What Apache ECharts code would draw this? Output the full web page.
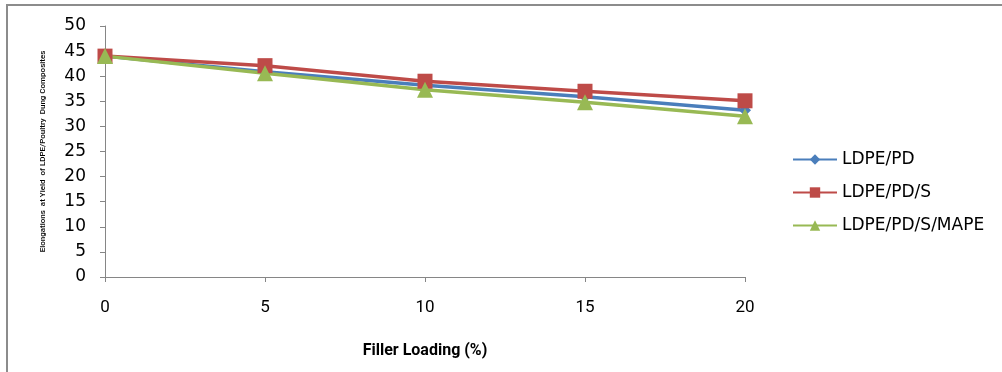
<!DOCTYPE html>
<html>
<head>
<meta charset="utf-8">
<script src="https://cdn.jsdelivr.net/npm/echarts@6/dist/echarts.min.js"></script>
<style>
  html, body { margin: 0; padding: 0; background: #fff; }
  #chart { width: 1002px; height: 372px; }
</style>
</head>
<body>
<div id="chart"></div>
<script>
// filler loading (%)
const loading = [0, 5, 10, 15, 20]
const ldpePd = [44, 40.9, 38.2, 35.9, 33.2]
const ldpePdS = [44, 42.1, 39.0, 37.0, 35.1]
const ldpePdSMape = [44, 40.6, 37.3, 34.8, 32.0]
const seriesNames = ['LDPE/PD', 'LDPE/PD/S', 'LDPE/PD/S/MAPE']

const pairs = (ys) => loading.map((x, i) => [x, ys[i]])

const chart = echarts.init(document.getElementById('chart'))

chart.setOption({
  animation: false,
  graphic: [
    {
      type: 'polyline',
      shape: { points: [[7, 372], [7, 5], [1002, 5]] },
      style: { stroke: '#8c8c8c', lineWidth: 2, fill: null }
    }
  ],
  grid: { left: 105, top: 26, width: 640, height: 251 },
  legend: {
    orient: 'vertical',
    left: 787,
    top: 146,
    itemGap: 16,
    itemWidth: 44,
    itemHeight: 13,
    textStyle: { fontFamily: 'DejaVu Sans', fontSize: 17, color: '#000' },
    data: seriesNames
  },
  xAxis: {
    type: 'value',
    min: 0,
    max: 20,
    interval: 5,
    name: 'Filler Loading (%)',
    nameLocation: 'middle',
    nameGap: 66,
    nameTextStyle: { fontFamily: 'Liberation Sans Narrow, Roboto', fontWeight: 'bold', fontSize: 16, color: '#000' },
    axisLine: { lineStyle: { color: '#868686', width: 1 } },
    axisTick: { show: true, length: 5, lineStyle: { color: '#868686' } },
    axisLabel: { margin: 22, fontFamily: 'Liberation Sans Narrow, Roboto', fontSize: 17, color: '#000' },
    splitLine: { show: false }
  },
  yAxis: {
    type: 'value',
    min: 0,
    max: 50,
    interval: 5,
    name: 'Elongations  at Yield  of LDPE/Poultry  Dung Composites',
    nameLocation: 'middle',
    nameGap: 58,
    nameTextStyle: { fontFamily: 'Liberation Sans Narrow, Roboto', fontSize: 8, fontWeight: 500, color: '#000' },
    axisLine: { show: true, lineStyle: { color: '#868686', width: 1 } },
    axisTick: { show: true, length: 5, lineStyle: { color: '#868686' } },
    axisLabel: { margin: 19, fontFamily: 'DejaVu Sans', fontSize: 17, color: '#000' },
    splitLine: { show: false }
  },
  series: [
    {
      name: seriesNames[0],
      type: 'line',
      data: pairs(ldpePd),
      symbol: 'diamond',
      symbolSize: 12,
      lineStyle: { width: 3.5, color: '#4a7ebb' },
      itemStyle: { color: '#4a7ebb' }
    },
    {
      name: seriesNames[1],
      type: 'line',
      data: pairs(ldpePdS),
      symbol: 'rect',
      symbolSize: 15,
      lineStyle: { width: 3.5, color: '#be4b48' },
      itemStyle: { color: '#be4b48' }
    },
    {
      name: seriesNames[2],
      type: 'line',
      data: pairs(ldpePdSMape),
      symbol: 'triangle',
      symbolSize: 16,
      lineStyle: { width: 3.5, color: '#98b954' },
      itemStyle: { color: '#98b954' }
    }
  ]
})
</script>
</body>
</html>
